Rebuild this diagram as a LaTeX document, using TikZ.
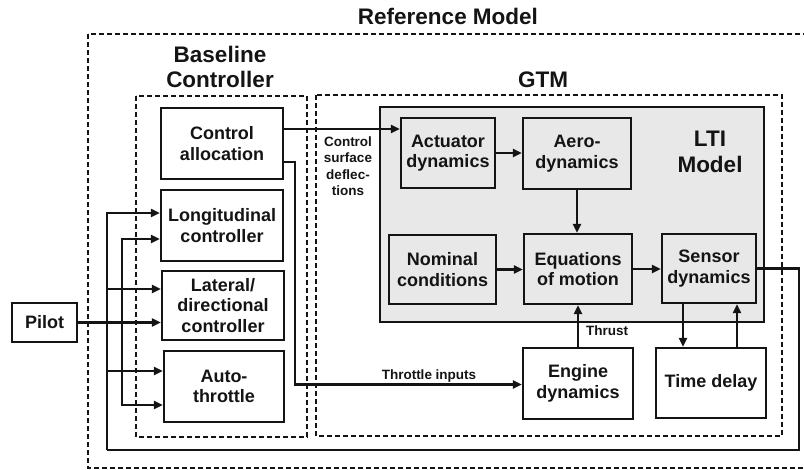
\documentclass[tikz,border=0pt]{standalone}
\usepackage{fontspec}
\setmainfont{Liberation Sans}
\usetikzlibrary{arrows.meta}

\definecolor{ltigray}{RGB}{232,232,232}
\definecolor{ink}{RGB}{20,20,20}

\tikzset{
  blk/.style={draw=ink, line width=2.2pt, align=center, inner sep=0pt,
    text=ink, font=\bfseries\fontsize{18}{20.5}\selectfont},
  ltiblk/.style={blk, fill=ltigray},
  grp/.style={draw=ink, line width=1.7pt, dash pattern=on 5pt off 3pt},
  title/.style={text=ink, align=center, font=\bfseries\fontsize{22.5}{25.5}\selectfont},
  small/.style={text=ink, align=center, font=\bfseries\fontsize{13.5}{16.5}\selectfont},
  arr/.style={draw=ink, line width=2.2pt, -{Triangle[length=9pt,width=8pt]}},
  wire/.style={draw=ink, line width=2.2pt}
}

\begin{document}
\begin{tikzpicture}[x=1pt,y=-1pt]
\useasboundingbox (0,0) rectangle (804,470);

% enclosing groups
\draw[grp] (88,34) rectangle (830,468);
\draw[grp] (136,96) rectangle (307,437);
\draw[grp] (316,95) rectangle (782,436);
\filldraw[fill=ltigray, draw=ink, line width=1.4pt] (380,107) rectangle (764,322);

% group titles
\node[title] (tref) at (448,16) {Reference Model};
\node[title] (tbase) at (220,67) {Baseline\\Controller};
\node[title] (tgtm) at (543,80) {GTM};
\node[title] (tlti) at (710,152) {LTI\\Model};

% baseline controller blocks
\node[blk, minimum width=122pt, minimum height=71pt] (ca)  at (222,143.5) {Control\\allocation};
\node[blk, minimum width=122pt, minimum height=71pt] (lon) at (222,225.5) {Longitudinal\\controller};
\node[blk, minimum width=122pt, minimum height=69pt] (lat) at (223,305.5) {Lateral/\\directional\\controller};
\node[blk, minimum width=120pt, minimum height=71pt] (aut) at (224,386.5) {Auto-\\throttle};
\node[blk, minimum width=65pt, minimum height=39pt] (pilot) at (44.5,322.5) {Pilot};

% LTI model blocks
\node[ltiblk, minimum width=94pt, minimum height=70pt]  (act)  at (448,153) {Actuator\\dynamics};
\node[ltiblk, minimum width=108pt, minimum height=71pt] (aero) at (577,153.5) {Aero-\\dynamics};
\node[ltiblk, minimum width=107pt, minimum height=69pt] (nom)  at (442.5,269.5) {Nominal\\conditions};
\node[ltiblk, minimum width=108pt, minimum height=70pt] (eom)  at (578,269) {Equations\\of motion};
\node[ltiblk, minimum width=94pt, minimum height=69pt]  (sen)  at (709,268.5) {Sensor\\dynamics};

% blocks below the LTI model
\node[blk, minimum width=110pt, minimum height=71pt] (eng) at (578,383.5) {Engine\\dynamics};
\node[blk, minimum width=110pt, minimum height=70pt] (td)  at (711,383) {Time delay};

% signal labels
\node[small] (lcs) at (348,166) {Control\\surface\\deflec-\\tions};
\node[small] (lthr) at (429,376) {Throttle inputs};
\node[small] (lthu) at (607,331) {Thrust};

% control surface deflections
\draw[arr] ([yshift=14.5pt]ca.east) coordinate (c1) -- (c1 -| act.west);
% throttle inputs
\coordinate (thr) at (295,384.5);
\draw[arr] ([yshift=-18.5pt]ca.east) -| (thr) -- (thr -| eng.west);

% inside the LTI model
\draw[arr] (act.east) -- (act.east -| aero.west);
\draw[arr] (aero.south) -- (aero.south |- eom.north);
\draw[arr] (nom.east) -- (nom.east -| eom.west);
\draw[arr] (eom.east) -- (eom.east -| sen.west);
\draw[arr] (eng.north) -- (eng.north |- eom.south);
\draw[arr] ([xshift=-26pt]sen.south) coordinate (s1) -- (s1 |- td.north);
\draw[arr] ([xshift=26pt]td.north) coordinate (t1) -- (t1 |- sen.south);

% sensor feedback to the controllers
\coordinate (fbr) at (799,450);
\coordinate (fbl) at (107,450);
\draw[wire] (sen.east) -| (fbr) -- (fbl);
\draw[arr] (fbl) |- ([yshift=12.5pt]lon.west);
\draw[arr] (fbl |- 0,289) -- ([yshift=16.5pt]lat.west);
\draw[arr] (fbl |- 0,371) -- ([yshift=15.5pt]aut.west);

% pilot commands
\coordinate (pj) at (122,322.5);
\draw[arr] (pilot.east) -- (pilot.east -| lat.west);
\draw[arr] (pj) |- ([yshift=-13.5pt]lon.west);
\draw[arr] (pj) |- ([yshift=-18.5pt]aut.west);
\end{tikzpicture}
\end{document}
